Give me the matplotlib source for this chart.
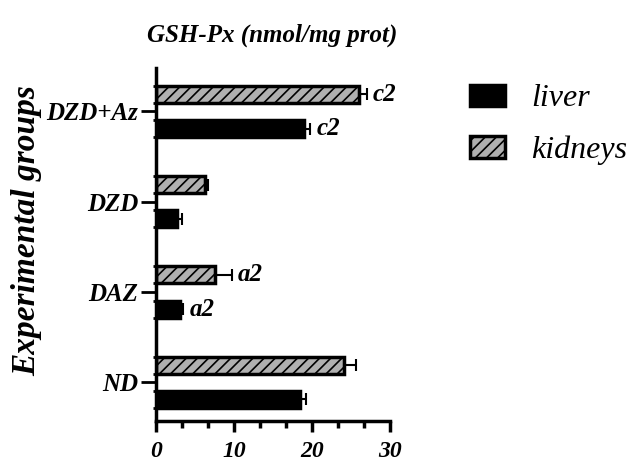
import matplotlib.pyplot as plt
import numpy as np

# Data
groups = ['ND', 'DAZ', 'DZD', 'DZD+Az']
liver = [18.4, 3.0, 2.7, 19.0]
liver_err = [0.8, 0.5, 0.6, 0.8]
kidneys = [24.1, 7.5, 6.3, 26.0]
kidneys_err = [1.5, 2.2, 0.4, 1.0]
liver_marks = ['', 'a2', '', 'c2']
kidneys_marks = ['', 'a2', '', 'c2']

plt.rcParams['font.family'] = ['Liberation Serif', 'DejaVu Serif']
plt.rcParams['hatch.color'] = '#555555'
plt.rcParams['hatch.linewidth'] = 1.2

fig = plt.figure(figsize=(6.27, 4.69), dpi=100)
ax = fig.add_axes([0.249, 0.102, 0.373, 0.753])

y = np.arange(len(groups))
h = 0.19
off = 0.19

ax.barh(y - off, liver, height=h, color='black', edgecolor='black', linewidth=2.5,
        xerr=[np.zeros(len(groups)), liver_err], error_kw=dict(lw=1.5, capsize=4, capthick=1.5),
        label='liver')
ax.barh(y + off, kidneys, height=h, color='#b0b0b0', edgecolor='black', linewidth=2.5,
        hatch='///', xerr=[np.zeros(len(groups)), kidneys_err],
        error_kw=dict(lw=1.5, capsize=4, capthick=1.5), label='kidneys')

# significance letters
for i in range(len(groups)):
    if liver_marks[i]:
        ax.text(liver[i] + liver_err[i] + 0.8, y[i] - off, liver_marks[i], va='center',
                ha='left', fontsize=18, fontweight='bold', fontstyle='italic')
    if kidneys_marks[i]:
        ax.text(kidneys[i] + kidneys_err[i] + 0.8, y[i] + off, kidneys_marks[i], va='center',
                ha='left', fontsize=18, fontweight='bold', fontstyle='italic')

ax.set_xlim(0, 30)
ax.set_ylim(-0.43, 3.48)
ax.set_xticks([0, 10, 20, 30])
ax.set_xticks(np.arange(0, 30.1, 10 / 3), minor=True)
ax.set_yticks(y)
ax.set_yticks(np.concatenate([y - off - h / 2, y - off + h / 2, y + off - h / 2, y + off + h / 2]),
              minor=True)
ax.set_yticklabels(groups, fontsize=18, fontweight='bold', fontstyle='italic')
ax.set_xticklabels(['0', '10', '20', '30'], fontsize=17, fontweight='bold', fontstyle='italic')
ax.tick_params(axis='x', which='major', length=8, width=2.5, pad=6)
ax.tick_params(axis='x', which='minor', length=5, width=2.5)
ax.tick_params(axis='y', which='major', length=11, width=2, pad=2)
ax.tick_params(axis='y', which='minor', length=2, width=2)

for s in ['top', 'right']:
    ax.spines[s].set_visible(False)
for s in ['left', 'bottom']:
    ax.spines[s].set_linewidth(2.5)

ax.set_ylabel('Experimental groups', fontsize=24, fontweight='bold', fontstyle='italic')
ax.yaxis.set_label_coords(-0.485, 0.54)
fig.text(0.434, 0.925, 'GSH-Px (nmol/mg prot)', ha='center', va='center', fontsize=18,
         fontweight='bold', fontstyle='italic')

leg = fig.legend(loc='upper left', bbox_to_anchor=(0.75, 0.82), frameon=False,
                 borderaxespad=0, borderpad=0,
                 prop=dict(size=23, style='italic'), handlelength=1.1, handleheight=0.65,
                 handletextpad=0.8, labelspacing=0.7)

fig.savefig('out.png', dpi=100)
